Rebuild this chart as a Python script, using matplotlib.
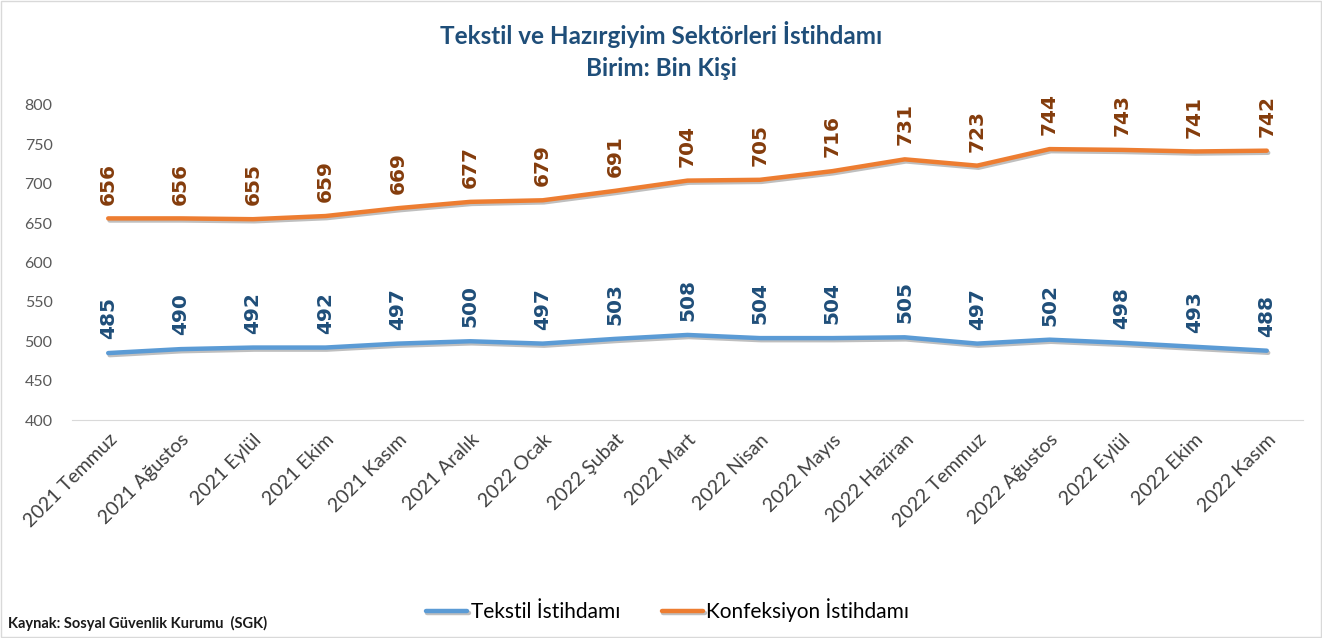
import matplotlib.pyplot as plt
import matplotlib.patheffects as pe
from matplotlib.patches import Rectangle

plt.rcParams['font.family'] = ['Lato', 'DejaVu Sans']

# Aylar ve istihdam verileri (bin kişi)
months = ['2021 Temmuz', '2021 Ağustos', '2021 Eylül', '2021 Ekim', '2021 Kasım',
          '2021 Aralık', '2022 Ocak', '2022 Şubat', '2022 Mart', '2022 Nisan',
          '2022 Mayıs', '2022 Haziran', '2022 Temmuz', '2022 Ağustos', '2022 Eylül',
          '2022 Ekim', '2022 Kasım']
tekstil = [485, 490, 492, 492, 497, 500, 497, 503, 508, 504, 504, 505, 497, 502, 498, 493, 488]
konfeksiyon = [656, 656, 655, 659, 669, 677, 679, 691, 704, 705, 716, 731, 723, 744, 743, 741, 742]

blue = '#5B9BD5'
orange = '#ED7D31'
blue_txt = '#1F4E79'
orange_txt = '#843C0C'

fig = plt.figure(figsize=(13.22, 6.38), dpi=100)
fig.patches.append(Rectangle((0.001, 0.001), 0.998, 0.997, transform=fig.transFigure,
                             fill=False, edgecolor='#D9D9D9', linewidth=1))
ax = fig.add_axes([72 / 1322, 1 - 420 / 638, 1231 / 1322, 315 / 638])

shadow = [pe.SimpleLineShadow(offset=(1, -1.5), shadow_color='gray', alpha=0.5), pe.Normal()]
x = list(range(len(months)))
ax.plot(x, tekstil, color=blue, lw=3.2, solid_capstyle='round', path_effects=shadow,
        label='Tekstil İstihdamı')
ax.plot(x, konfeksiyon, color=orange, lw=3.2, solid_capstyle='round', path_effects=shadow,
        label='Konfeksiyon İstihdamı')

# Veri etiketleri
for i in x:
    ax.annotate(str(tekstil[i]), (i, tekstil[i]), xytext=(0, 10), textcoords='offset points',
                rotation=90, ha='center', va='bottom', fontsize=14.5, fontweight='bold',
                color=blue_txt, family='DejaVu Sans')
    ax.annotate(str(konfeksiyon[i]), (i, konfeksiyon[i]), xytext=(0, 10), textcoords='offset points',
                rotation=90, ha='center', va='bottom', fontsize=14.5, fontweight='bold',
                color=orange_txt, family='DejaVu Sans')

ax.set_xlim(-0.5, len(months) - 0.5)
ax.set_ylim(400, 800)
ax.set_yticks(range(400, 801, 50))
ax.set_xticks(x)
ax.set_xticklabels(months, rotation=45, ha='right', rotation_mode='anchor')
ax.tick_params(axis='x', length=0, labelsize=14, labelcolor='#404040', pad=8)
ax.tick_params(axis='y', length=0, labelsize=11.5, labelcolor='#595959', pad=14)
for s in ['top', 'right', 'left']:
    ax.spines[s].set_visible(False)
ax.spines['bottom'].set_color('#D9D9D9')

fig.text(0.5, 1 - 35 / 638, 'Tekstil ve Hazırgiyim Sektörleri İstihdamı', ha='center', va='center',
         fontsize=17.5, fontweight='bold', color=blue_txt)
fig.text(0.5, 1 - 68 / 638, 'Birim: Bin Kişi', ha='center', va='center',
         fontsize=17.5, fontweight='bold', color=blue_txt)

fig.legend(loc='center', bbox_to_anchor=(0.505, 1 - 610 / 638), ncol=2, frameon=False,
           fontsize=15, handlelength=2, columnspacing=2.0, handletextpad=0.15)
fig.text(8 / 1322, 1 - 623 / 638, 'Kaynak: Sosyal Güvenlik Kurumu  (SGK)', ha='left', va='center',
         fontsize=10.5, fontweight='bold', color='#1a1a1a')

fig.savefig('out.png', dpi=100)
